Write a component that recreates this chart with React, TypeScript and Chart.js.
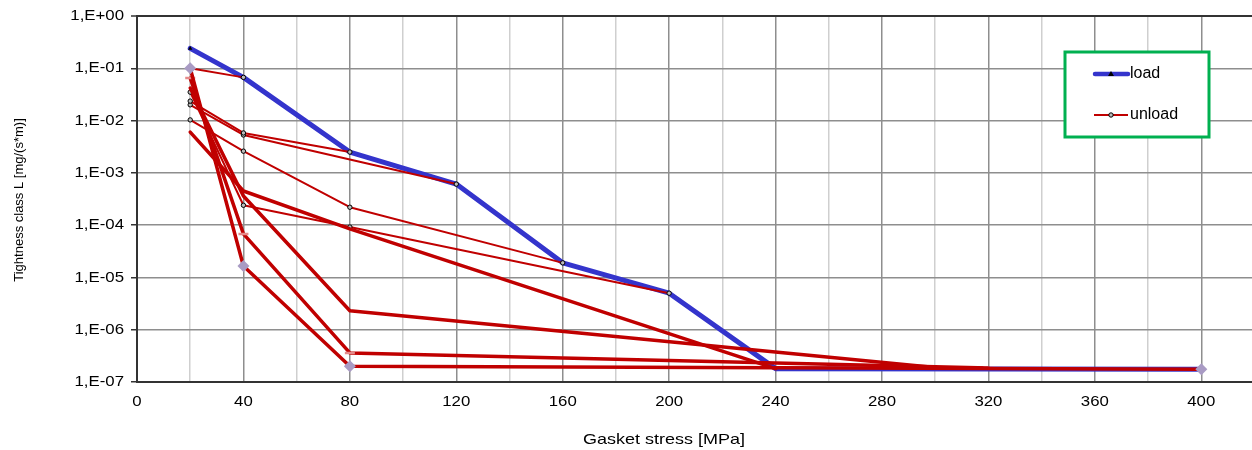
import React, { useEffect, useRef } from 'react';
import { Chart, registerables } from 'chart.js';

Chart.register(...registerables);

const FONT = '"Liberation Sans", Arial, Helvetica, sans-serif';

// ---------- data ----------
const xTickValues = [0, 40, 80, 120, 160, 200, 240, 280, 320, 360, 400];
const yTickValues = [1, 1e-1, 1e-2, 1e-3, 1e-4, 1e-5, 1e-6, 1e-7];
const yTickLabels = ['1,E+00', '1,E-01', '1,E-02', '1,E-03', '1,E-04', '1,E-05', '1,E-06', '1,E-07'];
const xAxisTitle = 'Gasket stress [MPa]';
const yAxisTitle = 'Tightness class L [mg/(s*m)]';
const legendLabels = ['load', 'unload'];

const loadStress = [20, 40, 80, 120, 160, 200, 240, 400];
const loadLeak = [0.24, 0.067, 2.5e-3, 6.1e-4, 1.9e-5, 5.0e-6, 1.8e-7, 1.75e-7];

// thin unloading curves
const unload1Stress = [40, 20];
const unload1Leak = [0.067, 0.1];
const unload2Stress = [80, 40, 20];
const unload2Leak = [2.5e-3, 5.8e-3, 0.0236];
const unload3Stress = [120, 40, 20];
const unload3Leak = [6.1e-4, 5.3e-3, 0.02];
const unload4Stress = [160, 80, 40, 20];
const unload4Leak = [1.9e-5, 2.2e-4, 2.6e-3, 0.0103];
const unload5Stress = [200, 80, 40, 20];
const unload5Leak = [5.0e-6, 9.2e-5, 2.4e-4, 0.035];

// thick unloading curves
const unload6Stress = [240, 80, 40, 20];
const unload6Leak = [1.8e-7, 8.5e-5, 4.5e-4, 6.0e-3];
const unload7Stress = [300, 80, 40, 20];
const unload7Leak = [1.9e-7, 2.3e-6, 3.6e-4, 0.042];
const unload8Stress = [320, 80, 40, 20];
const unload8Leak = [1.85e-7, 3.6e-7, 6.8e-5, 0.065];
const unload9Stress = [400, 80, 40, 20];
const unload9Leak = [1.75e-7, 2.0e-7, 1.66e-5, 0.1];

const BLUE = '#3434cc';
const RED = '#c00000';
const PINK = '#e48a8a';
const DIAMOND = '#a99bc4';

const pts = (xs: number[], ys: number[]) => xs.map((x, i) => ({ x, y: ys[i] }));

const thinUnload = (xs: number[], ys: number[]) => ({
  label: 'unload',
  data: pts(xs, ys),
  borderColor: RED,
  borderWidth: 2,
  pointStyle: 'circle',
  pointRadius: 2.2,
  pointBorderWidth: 1,
  pointBorderColor: '#000',
  pointBackgroundColor: '#bbb',
  order: 5,
});

const thickUnload = (xs: number[], ys: number[], style: any, color: string, radius: number, order: number) => ({
  label: 'unload',
  data: pts(xs, ys),
  borderColor: RED,
  borderWidth: 3.5,
  pointStyle: style,
  pointRadius: radius,
  pointBorderWidth: style === 'rectRot' ? 0 : 2.5,
  pointBorderColor: color,
  pointBackgroundColor: color,
  order,
});

const textPlugin = {
  id: 'textPlugin',
  afterDraw(chart: any) {
    const { ctx, scales } = chart;
    const x = scales.x;
    const y = scales.y;
    ctx.save();
    ctx.fillStyle = '#000';
    ctx.textBaseline = 'middle';
    ctx.font = `15px ${FONT}`;
    yTickValues.forEach((v, i) => {
      const py = y.getPixelForValue(v);
      ctx.save();
      ctx.translate(124, py);
      ctx.scale(1.12, 1);
      ctx.textAlign = 'right';
      ctx.fillText(yTickLabels[i], 0, 0);
      ctx.restore();
    });
    xTickValues.forEach((v) => {
      const px = x.getPixelForValue(v);
      ctx.save();
      ctx.translate(px, 402);
      ctx.scale(1.12, 1);
      ctx.textAlign = 'center';
      ctx.fillText(String(v), 0, 0);
      ctx.restore();
    });
    // x title
    ctx.save();
    ctx.font = `15px ${FONT}`;
    ctx.translate(664, 440);
    ctx.scale(1.2, 1);
    ctx.textAlign = 'center';
    ctx.fillText(xAxisTitle, 0, 0);
    ctx.restore();
    // y title
    ctx.save();
    ctx.font = `13px ${FONT}`;
    ctx.translate(19, 200);
    ctx.rotate(-Math.PI / 2);
    ctx.textAlign = 'center';
    ctx.fillText(yAxisTitle, 0, 0);
    ctx.restore();
    ctx.restore();
  },
};

const legendPlugin = {
  id: 'legendPlugin',
  afterDatasetsDraw(chart: any) {
    const { ctx } = chart;
    ctx.save();
    ctx.fillStyle = '#fff';
    ctx.fillRect(1065, 52, 144, 85);
    ctx.strokeStyle = '#00b050';
    ctx.lineWidth = 3;
    ctx.strokeRect(1065, 52, 144, 85);
    // load
    ctx.lineCap = 'round';
    ctx.strokeStyle = BLUE;
    ctx.lineWidth = 4.5;
    ctx.beginPath();
    ctx.moveTo(1095, 74);
    ctx.lineTo(1128, 74);
    ctx.stroke();
    ctx.fillStyle = '#000';
    ctx.beginPath();
    ctx.moveTo(1111, 71);
    ctx.lineTo(1114, 76);
    ctx.lineTo(1108, 76);
    ctx.closePath();
    ctx.fill();
    // unload
    ctx.lineCap = 'butt';
    ctx.strokeStyle = RED;
    ctx.lineWidth = 2;
    ctx.beginPath();
    ctx.moveTo(1094, 115);
    ctx.lineTo(1128, 115);
    ctx.stroke();
    ctx.fillStyle = '#bbb';
    ctx.strokeStyle = '#000';
    ctx.lineWidth = 1;
    ctx.beginPath();
    ctx.arc(1111, 115, 2.2, 0, Math.PI * 2);
    ctx.fill();
    ctx.stroke();
    ctx.fillStyle = '#000';
    ctx.font = `16px ${FONT}`;
    ctx.textAlign = 'left';
    ctx.textBaseline = 'middle';
    ctx.fillText(legendLabels[0], 1130, 74);
    ctx.fillText(legendLabels[1], 1130, 115);
    ctx.restore();
  },
};

export default function App() {
  const ref = useRef<HTMLCanvasElement>(null);
  useEffect(() => {
    if (!ref.current) return;
    const chart = new Chart(ref.current, {
      type: 'line',
      data: {
        datasets: [
          {
            label: 'load',
            data: pts(loadStress, loadLeak),
            borderColor: BLUE,
            borderWidth: 5,
            pointStyle: 'triangle',
            pointRadius: [2.5, 0, 0, 0, 0, 0, 1.5, 0],
            pointBorderWidth: 0,
            pointBackgroundColor: '#000',
            pointBorderColor: '#000',
            order: 10,
          } as any,
          thinUnload(unload1Stress, unload1Leak),
          thinUnload(unload2Stress, unload2Leak),
          thinUnload(unload3Stress, unload3Leak),
          thinUnload(unload4Stress, unload4Leak),
          thinUnload(unload5Stress, unload5Leak),
          thickUnload(unload6Stress, unload6Leak, 'line', PINK, 0, 4),
          thickUnload(unload7Stress, unload7Leak, 'crossRot', RED, 0, 3),
          thickUnload(unload8Stress, unload8Leak, 'line', PINK, 5, 2),
          thickUnload(unload9Stress, unload9Leak, 'rectRot', DIAMOND, 6, 1),
        ],
      },
      options: {
        animation: false,
        responsive: false,
        maintainAspectRatio: false,
        devicePixelRatio: 1,
        layout: { padding: { top: 16, right: 0, left: 0, bottom: 0 } },
        elements: {
          line: { tension: 0, borderJoinStyle: 'round', borderCapStyle: 'round' },
        },
        plugins: {
          legend: { display: false },
          tooltip: { enabled: false },
          title: { display: false },
        },
        scales: {
          x: {
            type: 'linear',
            min: 0,
            max: 420,
            ticks: { display: false, stepSize: 20 },
            grid: {
              color: (c: any) => (c.tick && c.tick.value % 40 === 0 ? '#8e8e8e' : '#cfcfcf'),
              lineWidth: 1.5,
              drawTicks: false,
            },
            border: { color: '#333', width: 2 },
            afterFit: (s: any) => {
              s.height = 68;
            },
          },
          y: {
            type: 'logarithmic',
            min: 1e-7,
            max: 1,
            afterBuildTicks: (s: any) => {
              s.ticks = yTickValues.map((v) => ({ value: v }));
            },
            ticks: { display: false },
            grid: {
              color: (c: any) => (c.tick && c.tick.value === 1 ? '#333' : '#8e8e8e'),
              lineWidth: (c: any) => (c.tick && c.tick.value === 1 ? 2 : 1.5),
              drawTicks: true,
              tickLength: 6,
              tickColor: '#333',
              tickWidth: 1.5,
            },
            border: { color: '#333', width: 2 },
            afterFit: (s: any) => {
              s.width = 137;
            },
          },
        },
      },
      plugins: [textPlugin, legendPlugin],
    } as any);
    return () => chart.destroy();
  }, []);
  return (
    <div style={{ position: 'fixed', left: 0, top: 0, width: 1252, height: 450, background: '#fff', overflow: 'hidden' }}>
      <canvas ref={ref} width={1262} height={450} style={{ display: 'block' }} />
    </div>
  );
}
